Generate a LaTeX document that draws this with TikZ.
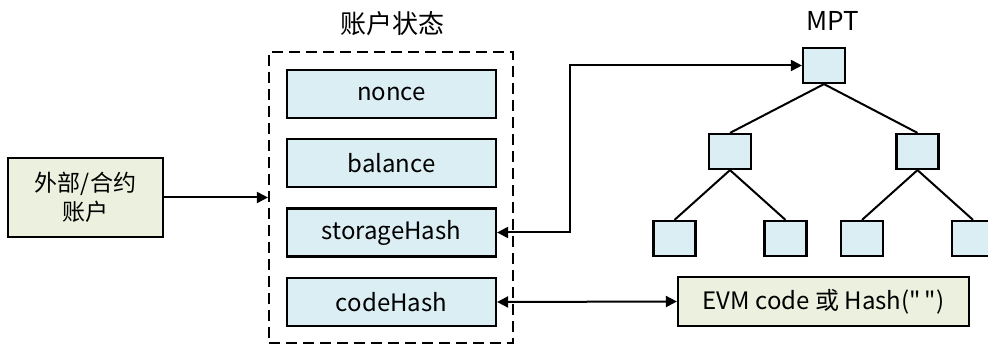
\documentclass[tikz,border=0pt]{standalone}
\usepackage{fontspec}
\setmainfont{Noto Sans CJK SC}
\usetikzlibrary{arrows.meta}
\definecolor{fieldblue}{HTML}{DAEEF3}
\definecolor{paleolive}{HTML}{EBF1DE}
\tikzset{
  field/.style={draw, line width=2.2pt, fill=fieldblue, minimum width=209pt, minimum height=48pt, inner sep=0pt, font=\fontsize{24}{28}\selectfont},
  trie/.style={draw, line width=2.2pt, fill=fieldblue, minimum width=42pt, minimum height=35pt, inner sep=0pt},
  greenbox/.style={draw, line width=2.2pt, fill=paleolive, inner sep=0pt, font=\fontsize{23}{29}\selectfont, align=center},
  link/.style={line width=2pt},
  arr/.style={link, -{Triangle[length=11pt, width=11pt]}},
  dblarr/.style={link, {Triangle[length=11pt, width=11pt]}-{Triangle[length=11pt, width=11pt]}},
  heading/.style={font=\fontsize{26}{30}\selectfont}
}
\begin{document}
\begin{tikzpicture}[x=1pt, y=-1pt]
\useasboundingbox (0,0) rectangle (988,347);

% account source
\node[greenbox, minimum width=155pt, minimum height=79pt] (acct) at (85.5,197.5) {外部/合约\\账户};

% account state container
\node[draw, dash pattern=on 11pt off 6pt, line width=2.2pt, minimum width=244pt, minimum height=291pt, inner sep=0pt] (state) at (391,197.5) {};
\node[heading] (statetitle) at (392,24) {账户状态};

\node[field] (nonce) at (391.5,94) {nonce};
\node[field] (balance) at (391.5,163) {balance};
\node[field] (storage) at (391.5,232.5) {storageHash};
\node[field] (code) at (391.5,302) {codeHash};

% storage trie
\node[heading] (mpttitle) at (833,21) {MPT};
\node[trie] (root) at (824,65.5) {};
\node[trie] (ml) at (730,151.5) {};
\node[trie] (mr) at (917.5,151.5) {};
\node[trie] (l1) at (674.5,238.5) {};
\node[trie] (l2) at (785.5,238.5) {};
\node[trie] (l3) at (862,238.5) {};
\node[trie] (l4) at (973,238.5) {};

\draw[link] (root.south) -- (ml.north);
\draw[link] (root.south) -- (mr.north);
\draw[link] (ml.south) -- (l1.north);
\draw[link] (ml.south) -- (l2.north);
\draw[link] (mr.south) -- (l3.north);
\draw[link] (mr.south) -- (l4.north);

% code store
\node[greenbox, minimum width=291pt, minimum height=49pt, font=\fontsize{24}{28}\selectfont] (evm) at (823.5,301.5) {EVM code 或 Hash(\textquotedbl\,\textquotedbl)};

% connectors
\coordinate (bend) at (570,65.5);
\draw[arr] (acct.east) -- (state.west |- acct.east);
\draw[dblarr] (storage.east) -| (bend) -- (root.west);
\draw[dblarr] (code.east) -- (evm.west);
\end{tikzpicture}
\end{document}
